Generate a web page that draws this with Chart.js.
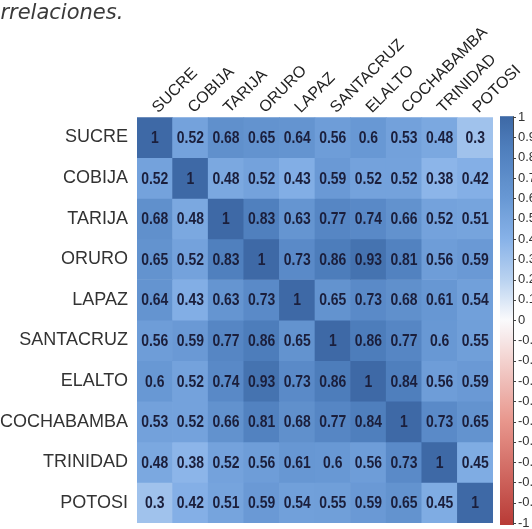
<!DOCTYPE html>
<html>
<head>
<meta charset="utf-8">
<script src="https://cdn.jsdelivr.net/npm/chart.js@4.4.1/dist/chart.umd.min.js"></script>
<style>
  html, body { margin: 0; padding: 0; background: #fff; }
  #wrap { position: relative; width: 532px; height: 529px; overflow: hidden; }
  #chart { position: absolute; left: -24px; top: 0; }
</style>
</head>
<body>
<div id="wrap"><canvas id="chart" width="556" height="529"></canvas></div>
<script>
// ciudades (filas y columnas de la matriz)
const cities = ['SUCRE', 'COBIJA', 'TARIJA', 'ORURO', 'LAPAZ', 'SANTACRUZ', 'ELALTO', 'COCHABAMBA', 'TRINIDAD', 'POTOSI'];

// correlaciones por fila
const sucre      = [1, 0.52, 0.68, 0.65, 0.64, 0.56, 0.6, 0.53, 0.48, 0.3];
const cobija     = [0.52, 1, 0.48, 0.52, 0.43, 0.59, 0.52, 0.52, 0.38, 0.42];
const tarija     = [0.68, 0.48, 1, 0.83, 0.63, 0.77, 0.74, 0.66, 0.52, 0.51];
const oruro      = [0.65, 0.52, 0.83, 1, 0.73, 0.86, 0.93, 0.81, 0.56, 0.59];
const lapaz      = [0.64, 0.43, 0.63, 0.73, 1, 0.65, 0.73, 0.68, 0.61, 0.54];
const santacruz  = [0.56, 0.59, 0.77, 0.86, 0.65, 1, 0.86, 0.77, 0.6, 0.55];
const elalto     = [0.6, 0.52, 0.74, 0.93, 0.73, 0.86, 1, 0.84, 0.56, 0.59];
const cochabamba = [0.53, 0.52, 0.66, 0.81, 0.68, 0.77, 0.84, 1, 0.73, 0.65];
const trinidad   = [0.48, 0.38, 0.52, 0.56, 0.61, 0.6, 0.56, 0.73, 1, 0.45];
const potosi     = [0.3, 0.42, 0.51, 0.59, 0.54, 0.55, 0.59, 0.65, 0.45, 1];

const rows = [sucre, cobija, tarija, oruro, lapaz, santacruz, elalto, cochabamba, trinidad, potosi];

// escala de color (-1 rojo, 0 blanco, 1 azul)
const colorStops = [
  [-1, [185, 60, 55]],
  [-0.5, [232, 150, 140]],
  [0, [250, 250, 252]],
  [0.2, [185, 210, 240]],
  [0.4, [135, 178, 232]],
  [0.6, [104, 152, 212]],
  [0.85, [78, 126, 188]],
  [1, [62, 105, 166]],
];

function colorFor(v) {
  for (let i = 1; i < colorStops.length; i++) {
    const [v1, c1] = colorStops[i];
    const [v0, c0] = colorStops[i - 1];
    if (v <= v1) {
      const t = (v - v0) / (v1 - v0);
      const c = c0.map((x, k) => Math.round(x + (c1[k] - x) * t));
      return `rgb(${c[0]},${c[1]},${c[2]})`;
    }
  }
  const c = colorStops[colorStops.length - 1][1];
  return `rgb(${c[0]},${c[1]},${c[2]})`;
}

const datasets = rows.map((vals, r) => ({
  label: cities[r],
  data: vals.map(() => [r - 0.5, r + 0.5]),
  backgroundColor: vals.map(colorFor),
  borderWidth: 0,
  grouped: false,
  barPercentage: 1,
  categoryPercentage: 1,
  yAxisID: 'y',
}));

// numeros dentro de cada celda (letra condensada)
const cellText = {
  id: 'cellText',
  afterDatasetsDraw(chart) {
    const {ctx, scales: {x, y}} = chart;
    ctx.save();
    ctx.font = 'bold 17px "Liberation Sans", Arial';
    ctx.fillStyle = '#1b1f3c';
    ctx.textAlign = 'center';
    ctx.textBaseline = 'middle';
    rows.forEach((vals, r) => {
      vals.forEach((v, c) => {
        ctx.save();
        ctx.translate(x.getPixelForValue(c), y.getPixelForValue(r) + 1);
        ctx.scale(0.82, 1);
        ctx.fillText(String(v), 0, 0);
        ctx.restore();
      });
    });
    ctx.restore();
  }
};

// barra de color a la derecha
const colorBar = {
  id: 'colorBar',
  afterDraw(chart) {
    const {ctx} = chart;
    const s = chart.scales.cbar;
    const x0 = s.left + 7, w = 13;
    const top = s.getPixelForValue(1), bot = s.getPixelForValue(-1);
    const g = ctx.createLinearGradient(0, bot, 0, top);
    for (let i = 0; i <= 40; i++) {
      const v = -1 + i * 0.05;
      g.addColorStop(i / 40, colorFor(v));
    }
    ctx.save();
    ctx.fillStyle = g;
    ctx.fillRect(x0, top - 1, w, bot - top + 3);
    ctx.strokeStyle = '#444';
    ctx.lineWidth = 1;
    ctx.beginPath();
    ctx.moveTo(x0 + w + 0.5, top - 1);
    ctx.lineTo(x0 + w + 0.5, bot + 2);
    s.ticks.forEach(t => {
      const py = Math.round(s.getPixelForValue(t.value)) + 0.5;
      ctx.moveTo(x0 + w, py);
      ctx.lineTo(x0 + w + 3, py);
    });
    ctx.stroke();
    ctx.restore();
  }
};

function noVPad(scale) {
  scale.paddingTop = 0;
  scale.paddingBottom = 0;
}

new Chart(document.getElementById('chart'), {
  type: 'bar',
  data: { labels: cities, datasets },
  plugins: [cellText, colorBar],
  options: {
    responsive: false,
    devicePixelRatio: 1,
    animation: false,
    layout: { padding: { top: 0, left: 0, right: 0, bottom: 6 } },
    plugins: {
      legend: { display: false },
      tooltip: { enabled: false },
      title: {
        display: true,
        text: 'correlaciones.',
        align: 'start',
        color: '#3a3a3a',
        font: { family: 'DejaVu Sans', size: 21, style: 'italic', weight: 'normal' },
        padding: { top: 1, bottom: 0 },
      },
    },
    scales: {
      x: {
        type: 'category',
        position: 'top',
        offset: true,
        grid: { display: false, drawTicks: false, tickLength: 0 },
        border: { display: false },
        ticks: {
          autoSkip: false,
          minRotation: 45,
          maxRotation: 45,
          padding: 0,
          labelOffset: 14,
          color: '#222',
          font: { family: 'Liberation Sans', size: 16 },
        },
        afterFit(scale) { scale.height = 91; scale.paddingRight = 0; scale.paddingLeft = 0; },
      },
      y: {
        type: 'linear',
        position: 'left',
        reverse: true,
        min: -0.5,
        max: 9.5,
        grid: { display: false, drawTicks: false, tickLength: 0 },
        border: { display: false },
        afterBuildTicks(scale) {
          scale.ticks = cities.map((_, i) => ({ value: i }));
        },
        ticks: {
          autoSkip: false,
          padding: 9,
          color: '#333',
          font: { family: 'Liberation Sans', size: 18 },
          callback: v => cities[v],
        },
        afterFit(scale) { scale.width = 161; noVPad(scale); },
      },
      cbar: {
        type: 'linear',
        position: 'right',
        min: -1,
        max: 1,
        grid: { display: false, drawTicks: false, tickLength: 0 },
        border: { display: false },
        afterBuildTicks(scale) {
          const t = [];
          for (let i = -10; i <= 10; i++) t.push({ value: i / 10 });
          scale.ticks = t;
        },
        ticks: {
          autoSkip: false,
          padding: 25,
          color: '#333',
          font: { family: 'Liberation Sans', size: 13 },
          callback: v => String(Math.round(v * 10) / 10),
        },
        afterFit(scale) { scale.width = 39; noVPad(scale); },
      },
    },
  },
});
</script>
</body>
</html>
